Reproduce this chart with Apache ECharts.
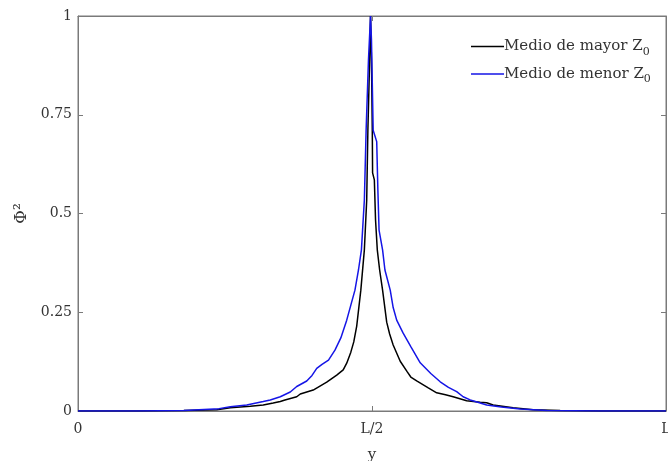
<!DOCTYPE html>
<html>
<head>
<meta charset="utf-8">
<script src="https://cdn.jsdelivr.net/npm/echarts@6/dist/echarts.min.js"></script>
<style>html,body{margin:0;padding:0;background:#fff}#c{width:668px;height:461px}</style>
</head>
<body>
<div id="c"></div>
<script>
// position along the line, as fraction of L
const blackX = [0,0.10,0.18,0.236,0.259,0.293,0.315,0.332,0.344,0.352,0.372,0.378,0.400,0.423,0.440,0.451,0.457,0.464,0.469,0.474,0.481,0.487,0.491,0.493,0.496,0.4975,0.4991,0.5005,0.501,0.504,0.506,0.509,0.513,0.518,0.525,0.530,0.536,0.548,0.560,0.566,0.576,0.595,0.610,0.625,0.638,0.661,0.684,0.695,0.706,0.740,0.774,0.820,0.888,1];
const blackY = [0,0.000,0.001,0.003,0.008,0.012,0.015,0.020,0.024,0.028,0.036,0.043,0.053,0.073,0.091,0.104,0.121,0.149,0.175,0.215,0.306,0.408,0.534,0.711,0.889,1.0,0.889,0.711,0.603,0.585,0.484,0.408,0.357,0.306,0.225,0.195,0.167,0.126,0.099,0.086,0.076,0.059,0.046,0.041,0.036,0.026,0.022,0.021,0.015,0.008,0.003,0.001,0.000,0];
const blueX = [0,0.10,0.18,0.240,0.259,0.287,0.315,0.327,0.344,0.361,0.372,0.389,0.398,0.406,0.415,0.426,0.437,0.447,0.457,0.464,0.471,0.477,0.482,0.487,0.490,0.494,0.4975,0.4991,0.502,0.508,0.510,0.512,0.518,0.522,0.531,0.536,0.542,0.553,0.566,0.582,0.600,0.616,0.630,0.644,0.655,0.667,0.680,0.695,0.720,0.752,0.797,0.888,1];
const blueY = [0,0.000,0.001,0.006,0.011,0.015,0.024,0.028,0.036,0.048,0.062,0.076,0.090,0.108,0.118,0.129,0.154,0.185,0.230,0.268,0.306,0.357,0.408,0.534,0.711,0.889,1.0,0.939,0.711,0.682,0.559,0.458,0.408,0.357,0.306,0.262,0.230,0.197,0.163,0.122,0.095,0.074,0.060,0.049,0.036,0.028,0.022,0.015,0.010,0.005,0.001,0.000,0];
const xTickLabels = {0:'0', 0.5:'L/2', 1:'L'};
const yTickLabels = {0:'0', 0.25:'0.25', 0.5:'0.5', 0.75:'0.75', 1:'1'};
const seriesNames = ['Medio de mayor Z', 'Medio de menor Z'];

const FONT = 'DejaVu Serif';
const AX = '#7a7a7a';
const TXT = '#333333';
function pairs(xs, ys){ return xs.map((x,i)=>[x, ys[i]]); }
function tick(){ return {show:true, inside:true, length:5, lineStyle:{color:AX, width:1}}; }

const chart = echarts.init(document.getElementById('c'), null, {renderer:'canvas'});
chart.setOption({
  animation:false,
  grid:{left:78, right:2, top:16, bottom:50, show:true, borderColor:AX, borderWidth:1,
        outerBoundsMode:'none', containLabel:false},
  legend:{
    orient:'vertical', left:466, top:34, itemGap:9, itemWidth:33, itemHeight:1.5,
    data:[{name:seriesNames[0], icon:'rect'},{name:seriesNames[1], icon:'rect'}],
    formatter: n => n + '{sub|0}',
    textStyle:{fontFamily:FONT, fontSize:15, color:TXT, padding:[0,0,0,-5],
      rich:{sub:{fontFamily:FONT, fontSize:11, color:TXT, padding:[11,0,0,0]}}}
  },
  xAxis:[{
    type:'value', min:0, max:1, interval:0.5, position:'bottom',
    name:'y', nameLocation:'middle', nameGap:37,
    nameTextStyle:{fontFamily:FONT, fontSize:15, color:TXT},
    axisLine:{show:true, onZero:false, lineStyle:{color:AX, width:1}},
    axisTick:tick(), splitLine:{show:false},
    axisLabel:{fontFamily:FONT, fontSize:14, color:TXT, margin:11, formatter:v=>xTickLabels[v]}
  },{
    type:'value', min:0, max:1, interval:0.5, position:'top',
    axisLine:{show:true, onZero:false, lineStyle:{color:AX, width:1}},
    axisTick:tick(), axisLabel:{show:false}, splitLine:{show:false}
  }],
  yAxis:[{
    type:'value', min:0, max:1, interval:0.25, position:'left',
    name:'Φ²', nameLocation:'middle', nameGap:47, nameRotate:90,
    nameTextStyle:{fontFamily:FONT, fontSize:17, color:TXT},
    axisLine:{show:true, onZero:false, lineStyle:{color:AX, width:1}},
    axisTick:tick(), splitLine:{show:false},
    axisLabel:{fontFamily:FONT, fontSize:14, color:TXT, margin:6, formatter:v=>yTickLabels[v]}
  },{
    type:'value', min:0, max:1, interval:0.25, position:'right',
    axisLine:{show:true, onZero:false, lineStyle:{color:AX, width:1}},
    axisTick:tick(), axisLabel:{show:false}, splitLine:{show:false}
  }],
  series:[
    {name:seriesNames[0], type:'line', data:pairs(blackX, blackY), symbol:'none',
     lineStyle:{color:'#000000', width:1.5}, itemStyle:{color:'#000000'}},
    {name:seriesNames[1], type:'line', data:pairs(blueX, blueY), symbol:'none',
     lineStyle:{color:'#1515e6', width:1.5}, itemStyle:{color:'#1515e6'}},
    {type:'line', xAxisIndex:1, yAxisIndex:1, data:[[0,0]], symbol:'none', silent:true,
     lineStyle:{opacity:0}}
  ]
});
</script>
</body>
</html>
